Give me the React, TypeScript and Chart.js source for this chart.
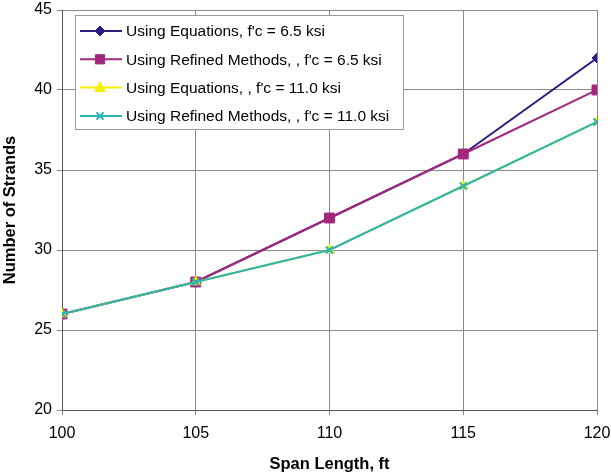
import React, { useEffect, useRef } from "react";
import { Chart, registerables } from "chart.js";

Chart.register(...registerables);

const spans = [100, 105, 110, 115, 120];
const eq65 = [26, 28, 32, 36, 42];
const refined65 = [26, 28, 32, 36, 40];
const eq110 = [26, 28, 30, 34, 38];
const refined110 = [26, 28, 30, 34, 38];

const seriesLabels = [
  "Using Equations, f'c = 6.5 ksi",
  "Using Refined Methods, , f'c = 6.5 ksi",
  "Using Equations, , f'c = 11.0 ksi",
  "Using Refined Methods, , f'c = 11.0 ksi",
];
const seriesColors = ["#2B1C84", "#A2287E", "#F4F000", "#2CB4B4"];
const seriesPoints = ["rectRot", "rect", "triangle", "crossRot"];
const seriesRadius = [5, 7, 5.5, 5];

const FONT = "Arial, 'Liberation Sans', sans-serif";

function drawMarker(ctx: any, style: string, r: number, x: number, y: number) {
  ctx.save();
  ctx.lineWidth = style === "crossRot" ? 2 : 1;
  ctx.beginPath();
  if (style === "rectRot") {
    ctx.moveTo(x, y - r);
    ctx.lineTo(x + r, y);
    ctx.lineTo(x, y + r);
    ctx.lineTo(x - r, y);
    ctx.closePath();
    ctx.fill();
    ctx.stroke();
  } else if (style === "rect") {
    const s = r * Math.SQRT1_2;
    ctx.rect(x - s, y - s, 2 * s, 2 * s);
    ctx.fill();
    ctx.stroke();
  } else if (style === "triangle") {
    ctx.moveTo(x, y - r);
    ctx.lineTo(x + r * 0.95, y + r * 0.7);
    ctx.lineTo(x - r * 0.95, y + r * 0.7);
    ctx.closePath();
    ctx.fill();
    ctx.stroke();
  } else {
    const s = r * Math.SQRT1_2;
    ctx.moveTo(x - s, y - s);
    ctx.lineTo(x + s, y + s);
    ctx.moveTo(x + s, y - s);
    ctx.lineTo(x - s, y + s);
    ctx.stroke();
  }
  ctx.restore();
}

const boxLegend = {
  id: "boxLegend",
  afterDraw(chart: any) {
    const ctx = chart.ctx;
    const x0 = 75, y0 = 15, w = 328, h = 114;
    ctx.save();
    ctx.fillStyle = "#ffffff";
    ctx.fillRect(x0, y0, w, h);
    ctx.strokeStyle = "#9a9a9a";
    ctx.lineWidth = 1;
    ctx.strokeRect(x0 + 0.5, y0 + 0.5, w, h);
    ctx.font = "15.5px " + FONT;
    ctx.textBaseline = "middle";
    chart.data.datasets.forEach((ds: any, i: number) => {
      const y = 31 + i * 28.3;
      ctx.strokeStyle = ds.borderColor;
      ctx.lineWidth = 2;
      ctx.beginPath();
      ctx.moveTo(80, y);
      ctx.lineTo(122, y);
      ctx.stroke();
      ctx.fillStyle = ds.pointBackgroundColor;
      ctx.strokeStyle = ds.pointBorderColor;
      drawMarker(ctx, ds.pointStyle, ds.pointStyle === "rect" ? 6.5 : ds.pointRadius, 100, y);
      ctx.fillStyle = "#000";
      ctx.fillText(ds.label, 126, y + 1);
    });
    ctx.restore();
  },
};

export default function App() {
  const ref = useRef<HTMLCanvasElement>(null);
  useEffect(() => {
    document.body.style.margin = "0";
    const allData = [eq65, refined65, eq110, refined110];
    const chart = new Chart(ref.current!, {
      type: "line",
      data: {
        datasets: allData.map((vals, i) => ({
          label: seriesLabels[i],
          data: spans.map((s, j) => ({ x: s, y: vals[j] })),
          borderColor: seriesColors[i],
          backgroundColor: seriesColors[i],
          pointBackgroundColor: seriesColors[i],
          pointBorderColor: seriesColors[i],
          pointStyle: seriesPoints[i] as any,
          pointRadius: seriesRadius[i],
          pointBorderWidth: seriesPoints[i] === "crossRot" ? 2 : 1,
          borderWidth: 2,
          tension: 0,
          fill: false,
          order: allData.length - i,
        })),
      },
      options: {
        animation: false,
        responsive: false,
        layout: { padding: { top: 10, right: 14, left: 0, bottom: 0 } },
        plugins: {
          legend: { display: false },
          tooltip: { enabled: false },
        },
        scales: {
          x: {
            type: "linear",
            min: 100,
            max: 120,
            ticks: { stepSize: 5, color: "#000", font: { size: 16, family: FONT }, padding: 9 },
            grid: { color: "#8a8a8a", tickLength: 5, lineWidth: 1 },
            border: { color: "#555", width: 1 },
            title: {
              display: true,
              text: "Span Length, ft",
              color: "#000",
              font: { size: 16.5, weight: "bold", family: FONT },
              padding: { top: 4, bottom: 1 },
            },
            afterFit(scale: any) {
              scale.height = 65;
              scale.paddingLeft = 0;
              scale.paddingRight = 0;
            },
          },
          y: {
            min: 20,
            max: 45,
            ticks: { stepSize: 5, color: "#000", font: { size: 16, family: FONT }, padding: 5 },
            grid: { color: "#8a8a8a", tickLength: 5, lineWidth: 1 },
            border: { color: "#555", width: 1 },
            title: {
              display: true,
              text: "Number of Strands",
              color: "#000",
              font: { size: 16.5, weight: "bold", family: FONT },
              padding: { top: 1, bottom: 8 },
            },
            afterFit(scale: any) {
              scale.width = 62;
              scale.paddingTop = 0;
              scale.paddingBottom = 0;
            },
          },
        },
      },
      plugins: [boxLegend],
    });
    return () => chart.destroy();
  }, []);
  return <canvas ref={ref} width={611} height={475} style={{ display: "block" }} />;
}
